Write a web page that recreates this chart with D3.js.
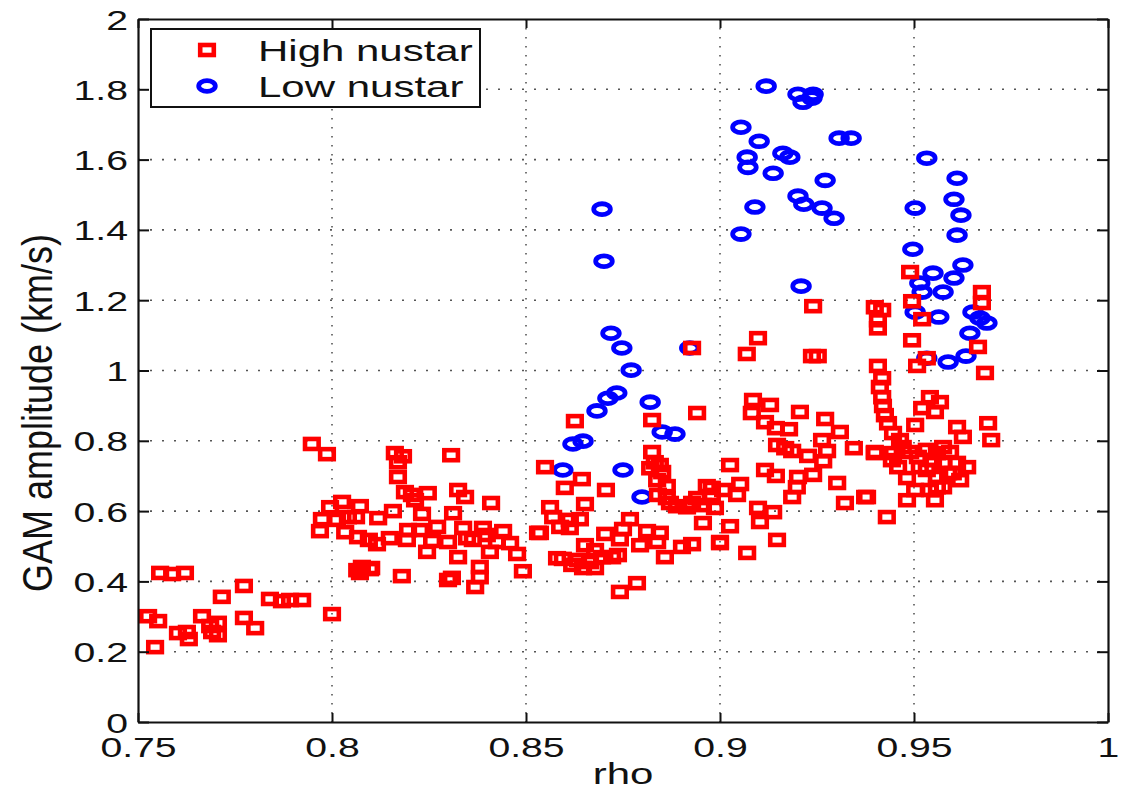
<!DOCTYPE html>
<html><head><meta charset="utf-8">
<script src="https://cdn.jsdelivr.net/npm/d3@7"></script>
<style>html,body{margin:0;padding:0;background:#fff;}svg{display:block;}</style>
</head><body>
<svg id="chart" width="1138" height="799"></svg>
<script>
const xTicks = [0.75, 0.8, 0.85, 0.9, 0.95, 1];
const yTicks = [0, 0.2, 0.4, 0.6, 0.8, 1, 1.2, 1.4, 1.6, 1.8, 2];
const seriesNames = ["High nustar", "Low nustar"];
const xLabel = "rho";
const yLabel = "GAM amplitude (km/s)";

const highNustar = [
[0.7526,0.301],[0.7552,0.287],[0.7544,0.213],[0.7557,0.424],[0.7588,0.421],[0.7621,0.424],[0.7603,0.253],[0.7626,0.256],[0.7631,0.236],[0.7665,0.301],[0.7686,0.273],[0.7706,0.282],[0.7706,0.247],[0.7691,0.256],[0.7716,0.356],[0.7773,0.387],[0.7773,0.296],[0.7802,0.267],[0.7840,0.350],[0.7871,0.344],[0.7892,0.347],[0.7923,0.347],[0.8000,0.307],[0.8072,0.424],[0.8101,0.438],[0.8065,0.432],[0.8180,0.415],[0.8299,0.404],
[0.7948,0.791],[0.7987,0.762],[0.8162,0.765],[0.8183,0.756],[0.8170,0.739],[0.8307,0.759],[0.8549,0.725],[0.8170,0.697],[0.8188,0.654],[0.8206,0.646],[0.8247,0.651],[0.8214,0.631],[0.8325,0.660],[0.8343,0.640],[0.8410,0.623],[0.8026,0.626],[0.7995,0.611],[0.8072,0.614],[0.8157,0.600],[0.8119,0.580],[0.7974,0.577],[0.8041,0.583],[0.8062,0.583],[0.8013,0.575],[0.7969,0.543],[0.8034,0.540],[0.8067,0.526],[0.8095,0.518],[0.8116,0.506],[0.8149,0.523],[0.8196,0.546],[0.8232,0.592],[0.8227,0.546],[0.8271,0.555],[0.8312,0.594],[0.8338,0.552],[0.8389,0.552],[0.8399,0.532],[0.8441,0.543],[0.8459,0.509],[0.8477,0.478],[0.8492,0.429],[0.8407,0.484],[0.8381,0.441],[0.8381,0.412],[0.8369,0.384],[0.8309,0.410],[0.8325,0.469],[0.8258,0.515],[0.8245,0.484],[0.8299,0.512],[0.8193,0.518],[0.8077,0.441],[0.8098,0.435],[0.8348,0.523],[0.8363,0.518],[0.8425,0.512],[0.8531,0.538],[0.8580,0.466],
[0.8626,0.856],[0.8825,0.859],[0.8941,0.879],[0.8825,0.768],[0.8832,0.739],[0.8845,0.731],[0.8820,0.722],[0.8851,0.711],[0.8838,0.688],[0.8863,0.671],[0.8840,0.646],[0.8863,0.637],[0.8871,0.623],[0.8889,0.614],[0.8915,0.611],[0.8941,0.637],[0.8928,0.623],[0.8956,0.617],[0.8979,0.666],[0.8987,0.609],[0.8956,0.566],[0.8644,0.691],[0.8600,0.666],[0.8706,0.660],[0.8652,0.620],[0.8562,0.611],[0.8570,0.583],[0.8613,0.575],[0.8639,0.577],[0.8588,0.555],[0.8613,0.552],[0.8536,0.538],[0.8768,0.577],[0.8750,0.549],[0.8812,0.543],[0.8704,0.535],[0.8845,0.538],[0.8742,0.520],[0.8794,0.503],[0.8838,0.512],[0.8652,0.503],[0.8678,0.489],[0.8595,0.464],[0.8634,0.461],[0.8665,0.455],[0.8619,0.447],[0.8647,0.438],[0.8678,0.438],[0.8696,0.469],[0.8722,0.469],[0.8737,0.475],[0.8858,0.469],[0.8902,0.498],[0.8928,0.506],[0.8742,0.370],[0.8786,0.395],[0.9000,0.512],
[0.9085,0.916],[0.9129,0.902],[0.9082,0.879],[0.9116,0.853],[0.9206,0.882],[0.9144,0.836],[0.9178,0.833],[0.9271,0.862],[0.9309,0.825],[0.9263,0.802],[0.9147,0.788],[0.9168,0.779],[0.9186,0.771],[0.9227,0.757],[0.9276,0.771],[0.9266,0.742],[0.9345,0.779],[0.9399,0.768],[0.9026,0.731],[0.9116,0.717],[0.9144,0.700],[0.9201,0.697],[0.9240,0.703],[0.9198,0.668],[0.9186,0.640],[0.9302,0.680],[0.9374,0.640],[0.9322,0.623],[0.9430,0.583],[0.8966,0.671],[0.9008,0.660],[0.9052,0.677],[0.9044,0.646],[0.8979,0.646],[0.9098,0.609],[0.9137,0.597],[0.9103,0.569],[0.9026,0.557],[0.9000,0.509],[0.9147,0.518],[0.9070,0.481],
[0.9490,1.280],[0.9675,1.223],[0.9675,1.192],[0.9495,1.197],[0.9399,1.180],[0.9418,1.172],[0.9407,1.143],[0.9407,1.120],[0.9521,1.146],[0.9495,1.086],[0.9665,1.067],[0.9533,1.035],[0.9508,1.013],[0.9683,0.993],[0.9407,1.013],[0.9418,0.978],[0.9412,0.953],[0.9418,0.924],[0.9420,0.899],[0.9425,0.873],[0.9433,0.850],[0.9541,0.924],[0.9567,0.910],[0.9521,0.893],[0.9554,0.882],[0.9691,0.850],[0.9699,0.802],[0.9611,0.839],[0.9626,0.811],[0.9503,0.845],[0.9399,0.765],[0.9379,0.640],
[0.9446,0.822],[0.9464,0.802],[0.9471,0.782],[0.9446,0.765],[0.9490,0.768],[0.9510,0.754],[0.9533,0.774],[0.9559,0.765],[0.9575,0.782],[0.9593,0.768],[0.9549,0.745],[0.9575,0.737],[0.9611,0.737],[0.9637,0.725],[0.9588,0.708],[0.9559,0.697],[0.9482,0.694],[0.9503,0.660],[0.9482,0.631],[0.9554,0.631],[0.9559,0.668],[0.9541,0.660],[0.9459,0.725],[0.9443,0.745],[0.9515,0.725],[0.9533,0.717],[0.9600,0.708],[0.9619,0.688],[0.9575,0.668],
[0.9069,1.047],[0.9098,1.092],[0.9240,1.183],[0.9237,1.041],[0.9252,1.041],[0.8928,1.064]
];

const lowNustar = [
[0.9119,1.809],[0.9201,1.786],[0.9240,1.786],[0.9214,1.763],[0.9237,1.775],[0.9054,1.692],[0.9101,1.652],[0.9162,1.618],[0.9180,1.607],[0.9307,1.661],[0.9338,1.661],[0.9070,1.607],[0.9072,1.578],[0.9137,1.561],[0.9271,1.541],[0.9201,1.496],[0.9216,1.473],[0.9263,1.462],[0.9294,1.433],[0.9090,1.465],[0.9054,1.388],[0.8696,1.459],[0.8701,1.311],[0.9209,1.240],[0.8719,1.106],[0.8747,1.064],[0.8771,1.001],[0.8922,1.064],[0.8734,0.936],[0.8711,0.921],[0.8683,0.885],[0.8820,0.910],[0.8851,0.825],[0.8884,0.819],[0.8647,0.799],[0.8621,0.791],[0.8595,0.717],[0.8750,0.717],[0.8799,0.640],
[0.9533,1.604],[0.9611,1.547],[0.9603,1.487],[0.9621,1.442],[0.9503,1.462],[0.9611,1.385],[0.9497,1.345],[0.9626,1.300],[0.9549,1.277],[0.9603,1.263],[0.9515,1.249],[0.9521,1.223],[0.9575,1.223],[0.9503,1.166],[0.9564,1.152],[0.9652,1.166],[0.9670,1.149],[0.9688,1.135],[0.9644,1.106],[0.9634,1.041],[0.9588,1.024],[0.9533,1.035]
];

const W = 1138, H = 799;
const mg = {left: 138, right: 1108, top: 19, bottom: 722};
const SX = 1.4; // horizontal stretch of the original figure
const FONT = "'Liberation Sans', Arial, Helvetica, sans-serif";
const RED = "#ff0000", BLUE = "#0000ff";
const SQ = {w: 13.6, h: 10, sw: 4.6};
const CI = {rx: 8.3, ry: 5.4, sw: 4.8};

const svg = d3.select("#chart");
const xs = d3.scaleLinear().domain([0.75, 1]).range([mg.left, mg.right]);
const ys = d3.scaleLinear().domain([0, 2]).range([mg.bottom, mg.top]);
const fmt = d => String(+d.toFixed(2));

// grid
const grid = svg.append("g");
grid.selectAll("line.gx").data(xTicks.slice(1, -1)).join("line")
  .attr("x1", d => xs(d)).attr("x2", d => xs(d)).attr("y1", mg.top).attr("y2", mg.bottom)
  .attr("stroke", "#555").attr("stroke-width", 1.6).attr("stroke-dasharray", "1.6,7.4");
grid.selectAll("line.gy").data(yTicks.slice(1, -1)).join("line")
  .attr("y1", d => ys(d)).attr("y2", d => ys(d)).attr("x1", mg.left).attr("x2", mg.right)
  .attr("stroke", "#555").attr("stroke-width", 1.6).attr("stroke-dasharray", "2,10");

// markers
function drawCircles(g, data) {
  g.selectAll("ellipse").data(data).join("ellipse")
    .attr("cx", d => xs(d[0])).attr("cy", d => ys(d[1]))
    .attr("rx", CI.rx).attr("ry", CI.ry)
    .attr("fill", "none").attr("stroke", BLUE).attr("stroke-width", CI.sw);
}
function drawSquares(g, data) {
  g.selectAll("rect").data(data).join("rect")
    .attr("x", d => xs(d[0]) - SQ.w / 2).attr("y", d => ys(d[1]) - SQ.h / 2)
    .attr("width", SQ.w).attr("height", SQ.h)
    .attr("fill", "none").attr("stroke", RED).attr("stroke-width", SQ.sw);
}
drawCircles(svg.append("g"), lowNustar);
drawSquares(svg.append("g"), highNustar);

// axes box with inward ticks (mirrored)
const axG = svg.append("g");
const axBottom = axG.append("g").attr("transform", `translate(0,${mg.bottom})`)
  .call(d3.axisBottom(xs).tickValues(xTicks).tickFormat(fmt).tickSizeInner(-9).tickSizeOuter(0));
const axTop = axG.append("g").attr("transform", `translate(0,${mg.top})`)
  .call(d3.axisTop(xs).tickValues(xTicks).tickFormat("").tickSizeInner(-9).tickSizeOuter(0));
const axLeft = axG.append("g").attr("transform", `translate(${mg.left},0)`)
  .call(d3.axisLeft(ys).tickValues(yTicks).tickFormat(fmt).tickSizeInner(-11).tickSizeOuter(0));
const axRight = axG.append("g").attr("transform", `translate(${mg.right},0)`)
  .call(d3.axisRight(ys).tickValues(yTicks).tickFormat("").tickSizeInner(-11).tickSizeOuter(0));
[axBottom, axTop, axLeft, axRight].forEach(g => {
  g.selectAll(".domain").attr("stroke", "#111").attr("stroke-width", 2.2);
  g.selectAll(".tick line").attr("stroke", "#111").attr("stroke-width", 2);
});
axBottom.selectAll(".tick text")
  .attr("font-family", FONT).attr("font-size", 28).attr("fill", "#111")
  .attr("y", 0).attr("dy", 0)
  .attr("transform", `translate(0,35) scale(${SX},1)`);
axLeft.selectAll(".tick text")
  .attr("font-family", FONT).attr("font-size", 28).attr("fill", "#111")
  .attr("x", 0).attr("dy", "0.36em")
  .attr("transform", `translate(-10,0) scale(${SX},1)`);

// axis labels
svg.append("text").text(xLabel)
  .attr("font-family", FONT).attr("font-size", 30).attr("fill", "#111")
  .attr("text-anchor", "middle")
  .attr("transform", `translate(${(mg.left + mg.right) / 2},784) scale(${SX},1)`);
svg.append("text").text(yLabel)
  .attr("font-family", FONT).attr("font-size", 36).attr("fill", "#111")
  .attr("text-anchor", "middle")
  .attr("transform", `translate(52,413) scale(1.2,1) rotate(-90)`);

// legend
const lg = svg.append("g");
lg.append("rect").attr("x", 151).attr("y", 29).attr("width", 329).attr("height", 78)
  .attr("fill", "#fff").attr("stroke", "#111").attr("stroke-width", 2);
const rows = [
  {name: seriesNames[0], color: RED, shape: "square", cy: 50},
  {name: seriesNames[1], color: BLUE, shape: "circle", cy: 86}
];
rows.forEach(r => {
  if (r.shape === "square") {
    lg.append("rect").attr("x", 207 - SQ.w / 2).attr("y", r.cy - SQ.h / 2).attr("width", SQ.w).attr("height", SQ.h)
      .attr("fill", "none").attr("stroke", r.color).attr("stroke-width", SQ.sw);
  } else {
    lg.append("ellipse").attr("cx", 207).attr("cy", r.cy).attr("rx", CI.rx).attr("ry", CI.ry)
      .attr("fill", "none").attr("stroke", r.color).attr("stroke-width", CI.sw);
  }
  lg.append("text").text(r.name)
    .attr("font-family", FONT).attr("font-size", 30).attr("fill", "#111")
    .attr("transform", `translate(258,${r.cy + 11}) scale(${SX},1)`);
});
</script>
</body></html>
